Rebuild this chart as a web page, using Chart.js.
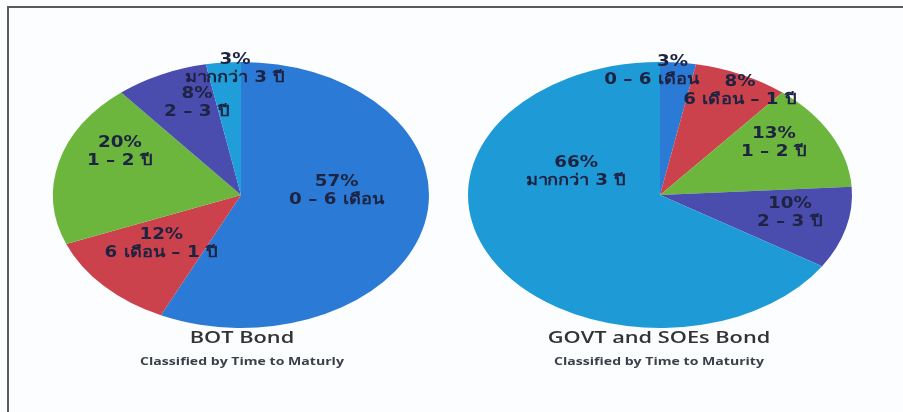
<!DOCTYPE html>
<html><head><meta charset="utf-8">
<script src="https://cdn.jsdelivr.net/npm/chart.js@4/dist/chart.umd.min.js"></script>
<style>
html,body{margin:0;padding:0;background:#fbfdfe;}
#wrap{position:relative;width:903px;height:412px;overflow:hidden;background:#fbfdfe;}
.frame{position:absolute;left:7px;top:6px;width:920px;height:440px;border-left:2px solid #5a5a5a;border-top:2px solid #5a5a5a;}
.cv{position:absolute;width:420px;height:300px;}
.title{position:absolute;width:320px;text-align:center;font-family:'Open Sans','Noto Sans',sans-serif;color:#2e2e2e;transform:scaleX(1.28);transform-origin:50% 50%;white-space:nowrap;}
.t1{font-size:17px;font-weight:600;line-height:20px;color:#333;}
.t2{font-size:11px;font-weight:700;color:#3a3f4a;line-height:14px;}
</style></head>
<body><div id="wrap">
<div class="frame"></div>
<div class="cv" style="left:31px;top:45px;"><canvas id="c1"></canvas></div>
<div class="cv" style="left:450px;top:45px;"><canvas id="c2"></canvas></div>
<div class="title t1" style="left:82px;top:327px;">BOT Bond</div>
<div class="title t2" style="left:82px;top:354px;">Classified by Time to Maturly</div>
<div class="title t1" style="left:499px;top:327px;">GOVT and SOEs Bond</div>
<div class="title t2" style="left:499px;top:354px;">Classified by Time to Maturity</div>
</div>
<script>
// Data
const botCategories = ['0 – 6 เดือน', '6 เดือน – 1 ปี', '1 – 2 ปี', '2 – 3 ปี', 'มากกว่า 3 ปี'];
const botValues = [57, 12, 20, 8, 3];
const govCategories = ['0 – 6 เดือน', '6 เดือน – 1 ปี', '1 – 2 ปี', '2 – 3 ปี', 'มากกว่า 3 ปี'];
const govValues = [3, 8, 13, 10, 66];

const sliceColors = ['#2b7ad6', '#cc424c', '#6cb63e', '#4a4cae', '#1f9ed9'];
const govColors = ['#2b7ad6', '#cc424c', '#6cb63e', '#4a4cae', '#1e9bd7'];

const ellipsePlugin = {
  id: 'ellipse',
  beforeDatasetsDraw(chart, args, opts) {
    const a = chart.getDatasetMeta(0).data[0];
    const ctx = chart.ctx;
    ctx.save();
    ctx.translate(a.x, a.y);
    ctx.scale(opts.sx, 1);
    ctx.translate(-a.x, -a.y);
  },
  afterDatasetsDraw(chart, args, opts) {
    const ctx = chart.ctx;
    ctx.restore();
    const meta = chart.getDatasetMeta(0);
    const labels = chart.data.labels;
    const vals = chart.data.datasets[0].data;
    meta.data.forEach((arc, i) => {
      const p = arc.getProps(['x', 'y', 'startAngle', 'endAngle', 'outerRadius'], true);
      const mid = (p.startAngle + p.endAngle) / 2 + opts.shift[i] * Math.PI / 180;
      const r = opts.radius[i] * p.outerRadius;
      const x = p.x + Math.cos(mid) * r * opts.sx;
      const y = p.y + Math.sin(mid) * r;
      const dx = opts.lineDx ? opts.lineDx[i] : [0, 0];
      ctx.save();
      ctx.fillStyle = '#1d2340';
      ctx.textAlign = 'center';
      ctx.textBaseline = 'middle';
      ctx.font = 'bold 15px "DejaVu Sans", "Noto Sans", sans-serif';
      ctx.translate(x, y);
      ctx.scale(1.22, 1);
      ctx.fillText(vals[i] + '%', dx[0], -9);
      ctx.fillText(labels[i], dx[1], 9);
      ctx.restore();
    });
  }
};

function makePie(id, cats, vals, colors, pad, sx, radius, shift, lineDx) {
  return new Chart(document.getElementById(id), {
    type: 'pie',
    data: { labels: cats, datasets: [{ data: vals, backgroundColor: colors, borderWidth: 0 }] },
    options: {
      responsive: true, maintainAspectRatio: false, animation: false,
      layout: { padding: pad },
      events: [],
      plugins: {
        legend: { display: false }, tooltip: { enabled: false },
        ellipse: { sx: sx, radius: radius, shift: shift, lineDx: lineDx }
      }
    },
    plugins: [ellipsePlugin]
  });
}

makePie('c1', botCategories, botValues, sliceColors, 17, 188 / 133,
  [0.51, 0.56, 0.72, 0.73, 0.95], [-16, 2.4, 12.2, 6.5, 3.5], null);
makePie('c2', govCategories, govValues, govColors, 17, 192 / 133,
  [0.93, 0.886, 0.711, 0.69, 0.47], [-4.9, 2.9, -6.4, -3.1, 50.4],
  [[9, -8], [0, 0], [0, 0], [0, 0], [0, 0]]);
</script>
</body></html>
